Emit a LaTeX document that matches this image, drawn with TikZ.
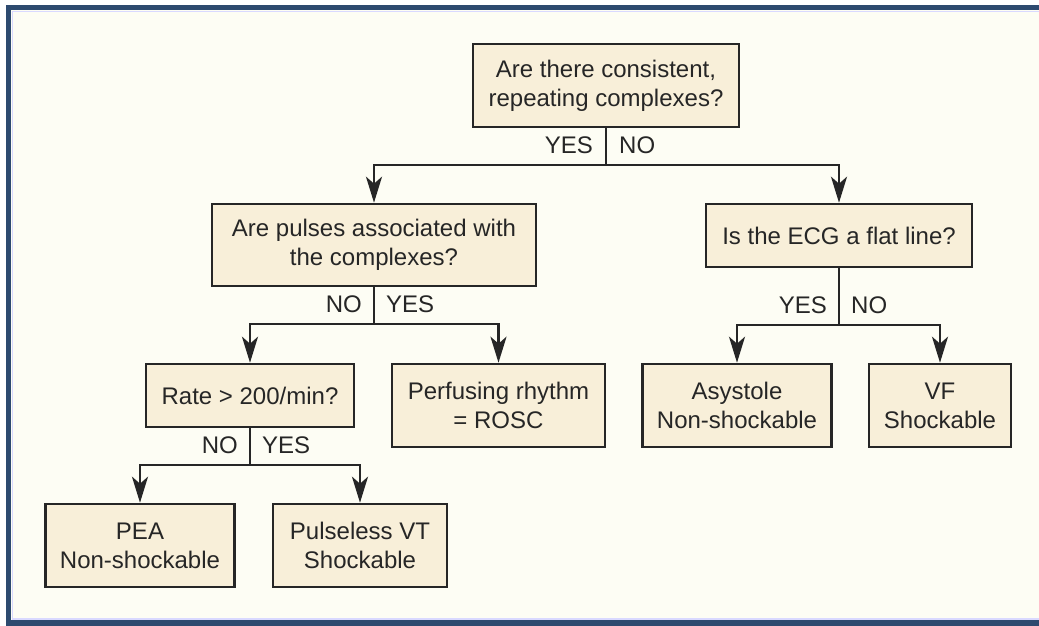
\documentclass[tikz,border=0pt]{standalone}
\usepackage{fontspec}
\setmainfont{Liberation Sans}
\usepackage{xcolor}
\usetikzlibrary{arrows.meta, positioning, calc}

\definecolor{framebl}{HTML}{2D4A6F}
\definecolor{paper}{HTML}{FDFDF4}
\definecolor{boxfill}{HTML}{F8EFD9}
\definecolor{ink}{HTML}{262626}

\begin{document}
\begin{tikzpicture}[x=1pt,y=-1pt,
  box/.style={draw=ink,fill=boxfill,line width=2.6pt,align=center,
    text=ink,inner sep=0pt,font=\fontsize{24}{29}\selectfont},
  link/.style={draw=ink,line width=2.6pt},
  arr/.style={link,-{Stealth[length=26pt,width=16pt,inset=7pt]}},
  lbl/.style={text=ink,inner sep=0pt,font=\fontsize{24}{28}\selectfont}]

  % Frame and paper
  \useasboundingbox (0,0) rectangle (1039,626);
  \fill[white] (0,0) rectangle (1039,626);
  \fill[framebl] (6,5) rectangle (1060,626);
  \fill[paper] (11,10) rectangle (1060,620);
  \draw[blue!15,line width=1.5pt] (1060,11.5) -- (12.5,11.5) -- (12.5,618.8) -- (1060,618.8);

  % Questions
  \node[box,minimum width=266,minimum height=83] (top) at (606,85.5)
    {Are there consistent,\\repeating complexes?};
  \node[box,minimum width=324,minimum height=82] (pulses) at (374,245)
    {Are pulses associated with\\the complexes?};
  \node[box,minimum width=266,minimum height=63] (flat) at (839,235.5)
    {Is the ECG a flat line?};
  \node[box,minimum width=208,minimum height=63] (rate) at (250,395.5)
    {Rate > 200/min?};

  % Outcomes
  \node[box,minimum width=213,minimum height=83] (perf) at (498.5,405.5)
    {Perfusing rhythm\\= ROSC};
  \node[box,minimum width=189,minimum height=83] (asys) at (737,405.5)
    {Asystole\\Non-shockable};
  \node[box,minimum width=142,minimum height=83] (vf) at (940,405.5)
    {VF\\Shockable};
  \node[box,minimum width=189,minimum height=83] (pea) at (140,545.5)
    {PEA\\Non-shockable};
  \node[box,minimum width=174,minimum height=83] (pvt) at (360,545.5)
    {Pulseless VT\\Shockable};

  % Branch points
  \coordinate (j1) at (606,165);
  \coordinate (j2) at (374,324);
  \coordinate (j3) at (839,325);
  \coordinate (j4) at (250,465);

  % Connectors
  \draw[link] (top.south) -- (j1);
  \draw[arr] (j1) -| (pulses.north);
  \draw[arr] (j1) -| (flat.north);

  \draw[link] (pulses.south) -- (j2);
  \draw[arr] (j2) -| (rate.north);
  \draw[arr] (j2) -| (perf.north);

  \draw[link] (flat.south) -- (j3);
  \draw[arr] (j3) -| (asys.north);
  \draw[arr] (j3) -| (vf.north);

  \draw[link] (rate.south) -- (j4);
  \draw[arr] (j4) -| (pea.north);
  \draw[arr] (j4) -| (pvt.north);

  % Answers
  \node[lbl,anchor=east] (y1) at ($(j1)+(-13,-20)$) {YES};
  \node[lbl,anchor=west] (n1) at ($(j1)+(13,-20)$) {NO};
  \node[lbl,anchor=east] (n2) at ($(j2)+(-12,-20)$) {NO};
  \node[lbl,anchor=west] (y2) at ($(j2)+(12,-20)$) {YES};
  \node[lbl,anchor=east] (y3) at ($(j3)+(-12,-20)$) {YES};
  \node[lbl,anchor=west] (n3) at ($(j3)+(12,-20)$) {NO};
  \node[lbl,anchor=east] (n4) at ($(j4)+(-12,-20)$) {NO};
  \node[lbl,anchor=west] (y4) at ($(j4)+(12,-20)$) {YES};
\end{tikzpicture}
\end{document}
